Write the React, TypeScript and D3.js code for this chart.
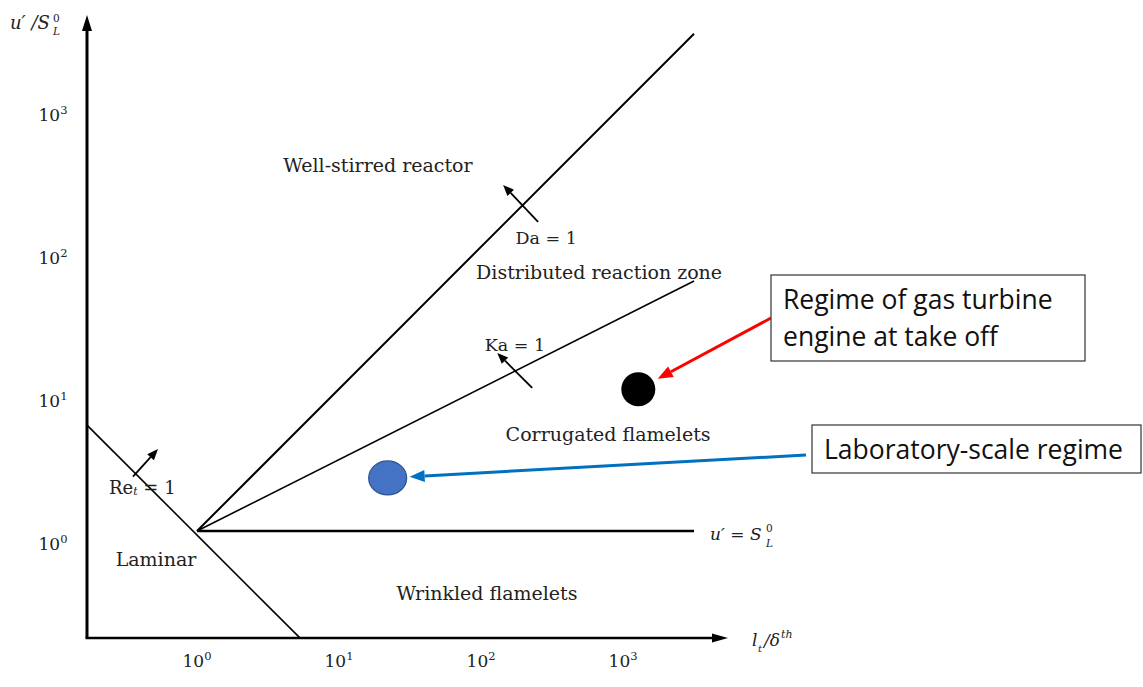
import React from "react";
import * as d3 from "d3";

// Regime boundaries in (l_t/δ_th, u'/S_L^0) coordinates
const X_TICKS = [1, 10, 100, 1000];
const Y_TICKS = [1, 10, 100, 1000];
const TICK_EXP = ["0", "1", "2", "3"];

const DA_LINE: [number, number][] = [[1, 1], [3160, 3000]];
const KA_LINE: [number, number][] = [[1, 1], [3160, 56]];
const FLAME_LINE: [number, number][] = [[1, 1], [3160, 1]];
const RE_LINE: [number, number][] = [[0.168, 5.5], [5.3, 0.179]];

// Direction arrows on each boundary: [tail, head]
const BOUNDARY_ARROWS: [number, number][][] = [
  [[0.354, 2.4], [0.531, 3.74]],
  [[252, 145], [143, 263]],
  [[229, 10], [130, 17.6]],
];

const REGION_LABELS = [
  { text: "Well-stirred reactor", x: 18.8, y: 362, size: 19 },
  { text: "Da = 1", x: 287, y: 112, size: 17.5 },
  { text: "Distributed reaction zone", x: 678, y: 64.7, size: 19 },
  { text: "Ka = 1", x: 173, y: 20, size: 17.5 },
  { text: "Corrugated flamelets", x: 784, y: 4.77, size: 19 },
  { text: "Laminar", x: 0.514, y: 0.637, size: 19 },
  { text: "Wrinkled flamelets", x: 110, y: 0.368, size: 19 },
];

const GAS_TURBINE = { x: 1280, y: 9.8 };
const LAB_SCALE = { x: 22, y: 2.35 };

const SERIF = "'DejaVu Serif', 'Liberation Serif', serif";
const SANS = "'Open Sans', 'Noto Sans', sans-serif";

function arrowHead(x1: number, y1: number, x2: number, y2: number, len: number, half: number) {
  const dx = x2 - x1;
  const dy = y2 - y1;
  const d = Math.hypot(dx, dy);
  const ux = dx / d;
  const uy = dy / d;
  const bx = x2 - ux * len;
  const by = y2 - uy * len;
  const pts = [
    [x2, y2],
    [bx - uy * half, by + ux * half],
    [bx + uy * half, by - ux * half],
  ];
  return { base: [bx, by], points: pts.map((p) => p.join(",")).join(" ") };
}

function Arrow({ x1, y1, x2, y2, color, width, len, half }: any) {
  const h = arrowHead(x1, y1, x2, y2, len, half);
  return (
    <g>
      <line x1={x1} y1={y1} x2={h.base[0]} y2={h.base[1]} stroke={color} strokeWidth={width} />
      <polygon points={h.points} fill={color} />
    </g>
  );
}

export default function App() {
  const W = 1143;
  const H = 687;
  const x = d3.scaleLog().domain([0.168, 5480]).range([87, 728]);
  const y = d3.scaleLog().domain([0.1786, 4055]).range([638, 15]);
  const line = d3
    .line<[number, number]>()
    .x((d) => x(d[0]))
    .y((d) => y(d[1]));

  const x0 = x.range()[0];
  const xEnd = x.range()[1];
  const y0 = y.range()[0];
  const yEnd = y.range()[1];

  // Callout arrows from text boxes to the marked regimes
  const gt = { cx: x(GAS_TURBINE.x), cy: y(GAS_TURBINE.y) };
  const lab = { cx: x(LAB_SCALE.x), cy: y(LAB_SCALE.y) };
  const redStart = [771, 318];
  const blueStart = [806, 455];
  const redEnd = (() => {
    const dx = redStart[0] - gt.cx, dy = redStart[1] - gt.cy, d = Math.hypot(dx, dy);
    return [gt.cx + (dx / d) * 22, gt.cy + (dy / d) * 22];
  })();
  const blueEnd = (() => {
    const dx = blueStart[0] - lab.cx, dy = blueStart[1] - lab.cy, d = Math.hypot(dx, dy);
    return [lab.cx + (dx / d) * 22, lab.cy + (dy / d) * 22];
  })();
  const flameEnd = x(FLAME_LINE[1][0]);

  return (
    <svg
      width={W}
      height={H}
      style={{ position: "absolute", left: 0, top: 0, background: "#fff" }}
    >
      {/* axes */}
      <Arrow x1={x0} y1={y0} x2={x0} y2={yEnd} color="#000" width={3} len={16} half={5} />
      <Arrow x1={x0 - 1.5} y1={y0} x2={xEnd} y2={y0} color="#000" width={2.5} len={16} half={4.5} />

      {/* tick labels */}
      {X_TICKS.map((t, i) => (
        <text key={"xt" + i} x={x(t)} y={667} textAnchor="middle" fontFamily={SERIF} fontSize={17} fill="#222">
          10
          <tspan dy={-7} fontSize={11.5}>{TICK_EXP[i]}</tspan>
        </text>
      ))}
      {Y_TICKS.map((t, i) => (
        <text key={"yt" + i} x={53} y={y(t) + 19} textAnchor="middle" fontFamily={SERIF} fontSize={17} fill="#222">
          10
          <tspan dy={-7} fontSize={11.5}>{TICK_EXP[i]}</tspan>
        </text>
      ))}

      {/* axis titles */}
      <g fontFamily={SERIF} fill="#222">
        <text x={10} y={29} fontSize={18} fontStyle="italic">u′ /S</text>
        <text x={53} y={22} fontSize={10.5}>0</text>
        <text x={53} y={35} fontSize={10.5} fontStyle="italic">L</text>
        <text x={752} y={646} fontSize={17} fontStyle="italic">l</text>
        <text x={758} y={652} fontSize={10} fontStyle="italic">t</text>
        <text x={764} y={646} fontSize={17} fontStyle="italic">/δ</text>
        <text x={781} y={638} fontSize={11} fontStyle="italic">th</text>
      </g>

      {/* regime boundaries */}
      <path d={line(DA_LINE) ?? ""} stroke="#000" strokeWidth={2} fill="none" />
      <path d={line(KA_LINE) ?? ""} stroke="#000" strokeWidth={1.6} fill="none" />
      <path d={line(FLAME_LINE) ?? ""} stroke="#000" strokeWidth={2.4} fill="none" />
      <path d={line(RE_LINE) ?? ""} stroke="#000" strokeWidth={1.6} fill="none" />

      {BOUNDARY_ARROWS.map((a, i) => (
        <Arrow
          key={"ba" + i}
          x1={x(a[0][0])}
          y1={y(a[0][1])}
          x2={x(a[1][0])}
          y2={y(a[1][1])}
          color="#000"
          width={1.8}
          len={11}
          half={4.5}
        />
      ))}

      {/* region labels */}
      {REGION_LABELS.map((l, i) => (
        <text
          key={"rl" + i}
          x={x(l.x)}
          y={y(l.y)}
          textAnchor="middle"
          dominantBaseline="central"
          fontFamily={SERIF}
          fontSize={l.size}
          fill="#222"
        >
          {l.text}
        </text>
      ))}
      <text x={109} y={y(2.03)} dominantBaseline="central" fontFamily={SERIF} fontSize={18} fill="#222">
        Re
        <tspan fontSize={11} dy={4} fontStyle="italic">t</tspan>
        <tspan dy={-4}> = 1</tspan>
      </text>
      <g fontFamily={SERIF} fill="#222">
        <text x={flameEnd + 16} y={540} fontSize={17} fontStyle="italic">u′ = S</text>
        <text x={flameEnd + 72} y={532} fontSize={10.5}>0</text>
        <text x={flameEnd + 72} y={547} fontSize={10.5} fontStyle="italic">L</text>
      </g>

      {/* regime markers */}
      <circle cx={gt.cx} cy={gt.cy} r={17} fill="#000" />
      <ellipse cx={lab.cx} cy={lab.cy} rx={19} ry={17} fill="#4472C4" stroke="#2F528F" strokeWidth={1.2} />

      {/* callouts */}
      <Arrow x1={redStart[0]} y1={redStart[1]} x2={redEnd[0]} y2={redEnd[1]} color="#FF0000" width={3} len={15} half={6} />
      <Arrow x1={blueStart[0]} y1={blueStart[1]} x2={blueEnd[0]} y2={blueEnd[1]} color="#0070C0" width={3} len={15} half={6} />

      <rect x={771} y={275} width={314} height={86} fill="#fff" stroke="#333" strokeWidth={1.2} />
      <text x={783} y={309} fontFamily={SANS} fontSize={26.5} fill="#111">Regime of gas turbine</text>
      <text x={783} y={346} fontFamily={SANS} fontSize={26.5} fill="#111">engine at take off</text>

      <rect x={812} y={425} width={329} height={48} fill="#fff" stroke="#333" strokeWidth={1.2} />
      <text x={824} y={459} fontFamily={SANS} fontSize={26.5} fill="#111">Laboratory-scale regime</text>
    </svg>
  );
}
